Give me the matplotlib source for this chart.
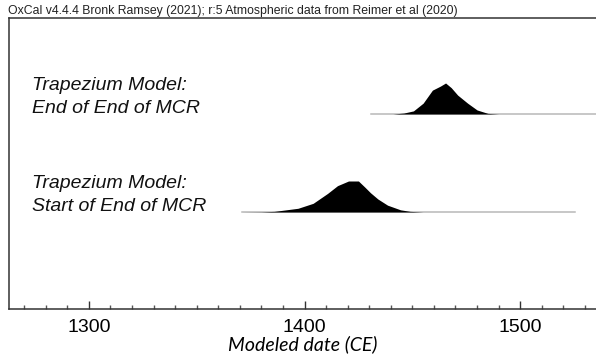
import matplotlib
matplotlib.use("Agg")
from matplotlib import pyplot as plt
from matplotlib.ticker import MultipleLocator

# data: modeled date (CE) vs relative probability
end_dates = [1430.6, 1441, 1446, 1450.5, 1455, 1459.3, 1463, 1465.4, 1468, 1471,
             1475.6, 1480, 1485, 1490, 1540]
end_prob = [0, 0, 0.03, 0.10, 0.35, 0.77, 0.90, 1.0, 0.85, 0.61,
            0.35, 0.13, 0.02, 0, 0]

start_dates = [1370.8, 1380, 1386, 1397, 1404, 1410.7, 1415.3, 1420.4, 1425, 1428,
               1430.6, 1434, 1438.5, 1444.5, 1449, 1455, 1525.6]
start_prob = [0, 0.005, 0.02, 0.12, 0.28, 0.60, 0.85, 1.0, 1.0, 0.80,
              0.62, 0.42, 0.22, 0.07, 0.02, 0, 0]

labels = ["Trapezium Model:\nEnd of End of MCR",
          "Trapezium Model:\nStart of End of MCR"]

W, H = 596, 356
fig = plt.figure(figsize=(W / 100, H / 100), dpi=100)
ax = fig.add_axes([9 / W, 1 - 309 / H, 1 - 9 / W, (309 - 18) / H])
ax.set_xlim(1263, 1263 + (W - 9) / 2.157)
ax.set_ylim(0, 291)

# distributions drawn in pixel-ish y units
peak_h = 31
for dates, prob, base in [(end_dates, end_prob, 195), (start_dates, start_prob, 97)]:
    ys = [base + p * peak_h for p in prob]
    ax.plot(dates, [base] * len(dates), color="#b8b8b8", lw=1.1, zorder=1)
    ax.fill_between(dates, base, ys, color="black", lw=0, zorder=2)

for i, (txt, ys) in enumerate(zip(labels, [(90, 113), (188, 211)])):
    for line, yb in zip(txt.split("\n"), ys):
        fig.text(32 / W, 1 - yb / H, line, fontsize=14, style="italic",
                 family="Liberation Sans", va="baseline", ha="left", color="#111111")

fig.text(8 / W, 1 - 14 / H,
         "OxCal v4.4.4 Bronk Ramsey (2021); r:5 Atmospheric data from Reimer et al (2020)",
         fontsize=8.8, family="Liberation Sans", va="baseline", ha="left", color="#222222")

for s in ["top", "left", "bottom"]:
    ax.spines[s].set_color("#333333")
    ax.spines[s].set_linewidth(1.1)
ax.spines["right"].set_visible(False)

ax.xaxis.set_major_locator(MultipleLocator(100))
ax.xaxis.set_minor_locator(MultipleLocator(10))
ax.tick_params(axis="x", which="major", direction="in", length=6, width=1,
               color="#333333", labelsize=14, pad=7)
ax.tick_params(axis="x", which="minor", direction="in", length=3, width=1,
               color="#555555")
for lab in ax.get_xticklabels():
    lab.set_family("Liberation Sans")
ax.set_yticks([])
ax.set_xlabel("Modeled date (CE)", fontsize=14, style="italic", family="Lato",
              labelpad=0)

fig.savefig("out.png", dpi=100)
